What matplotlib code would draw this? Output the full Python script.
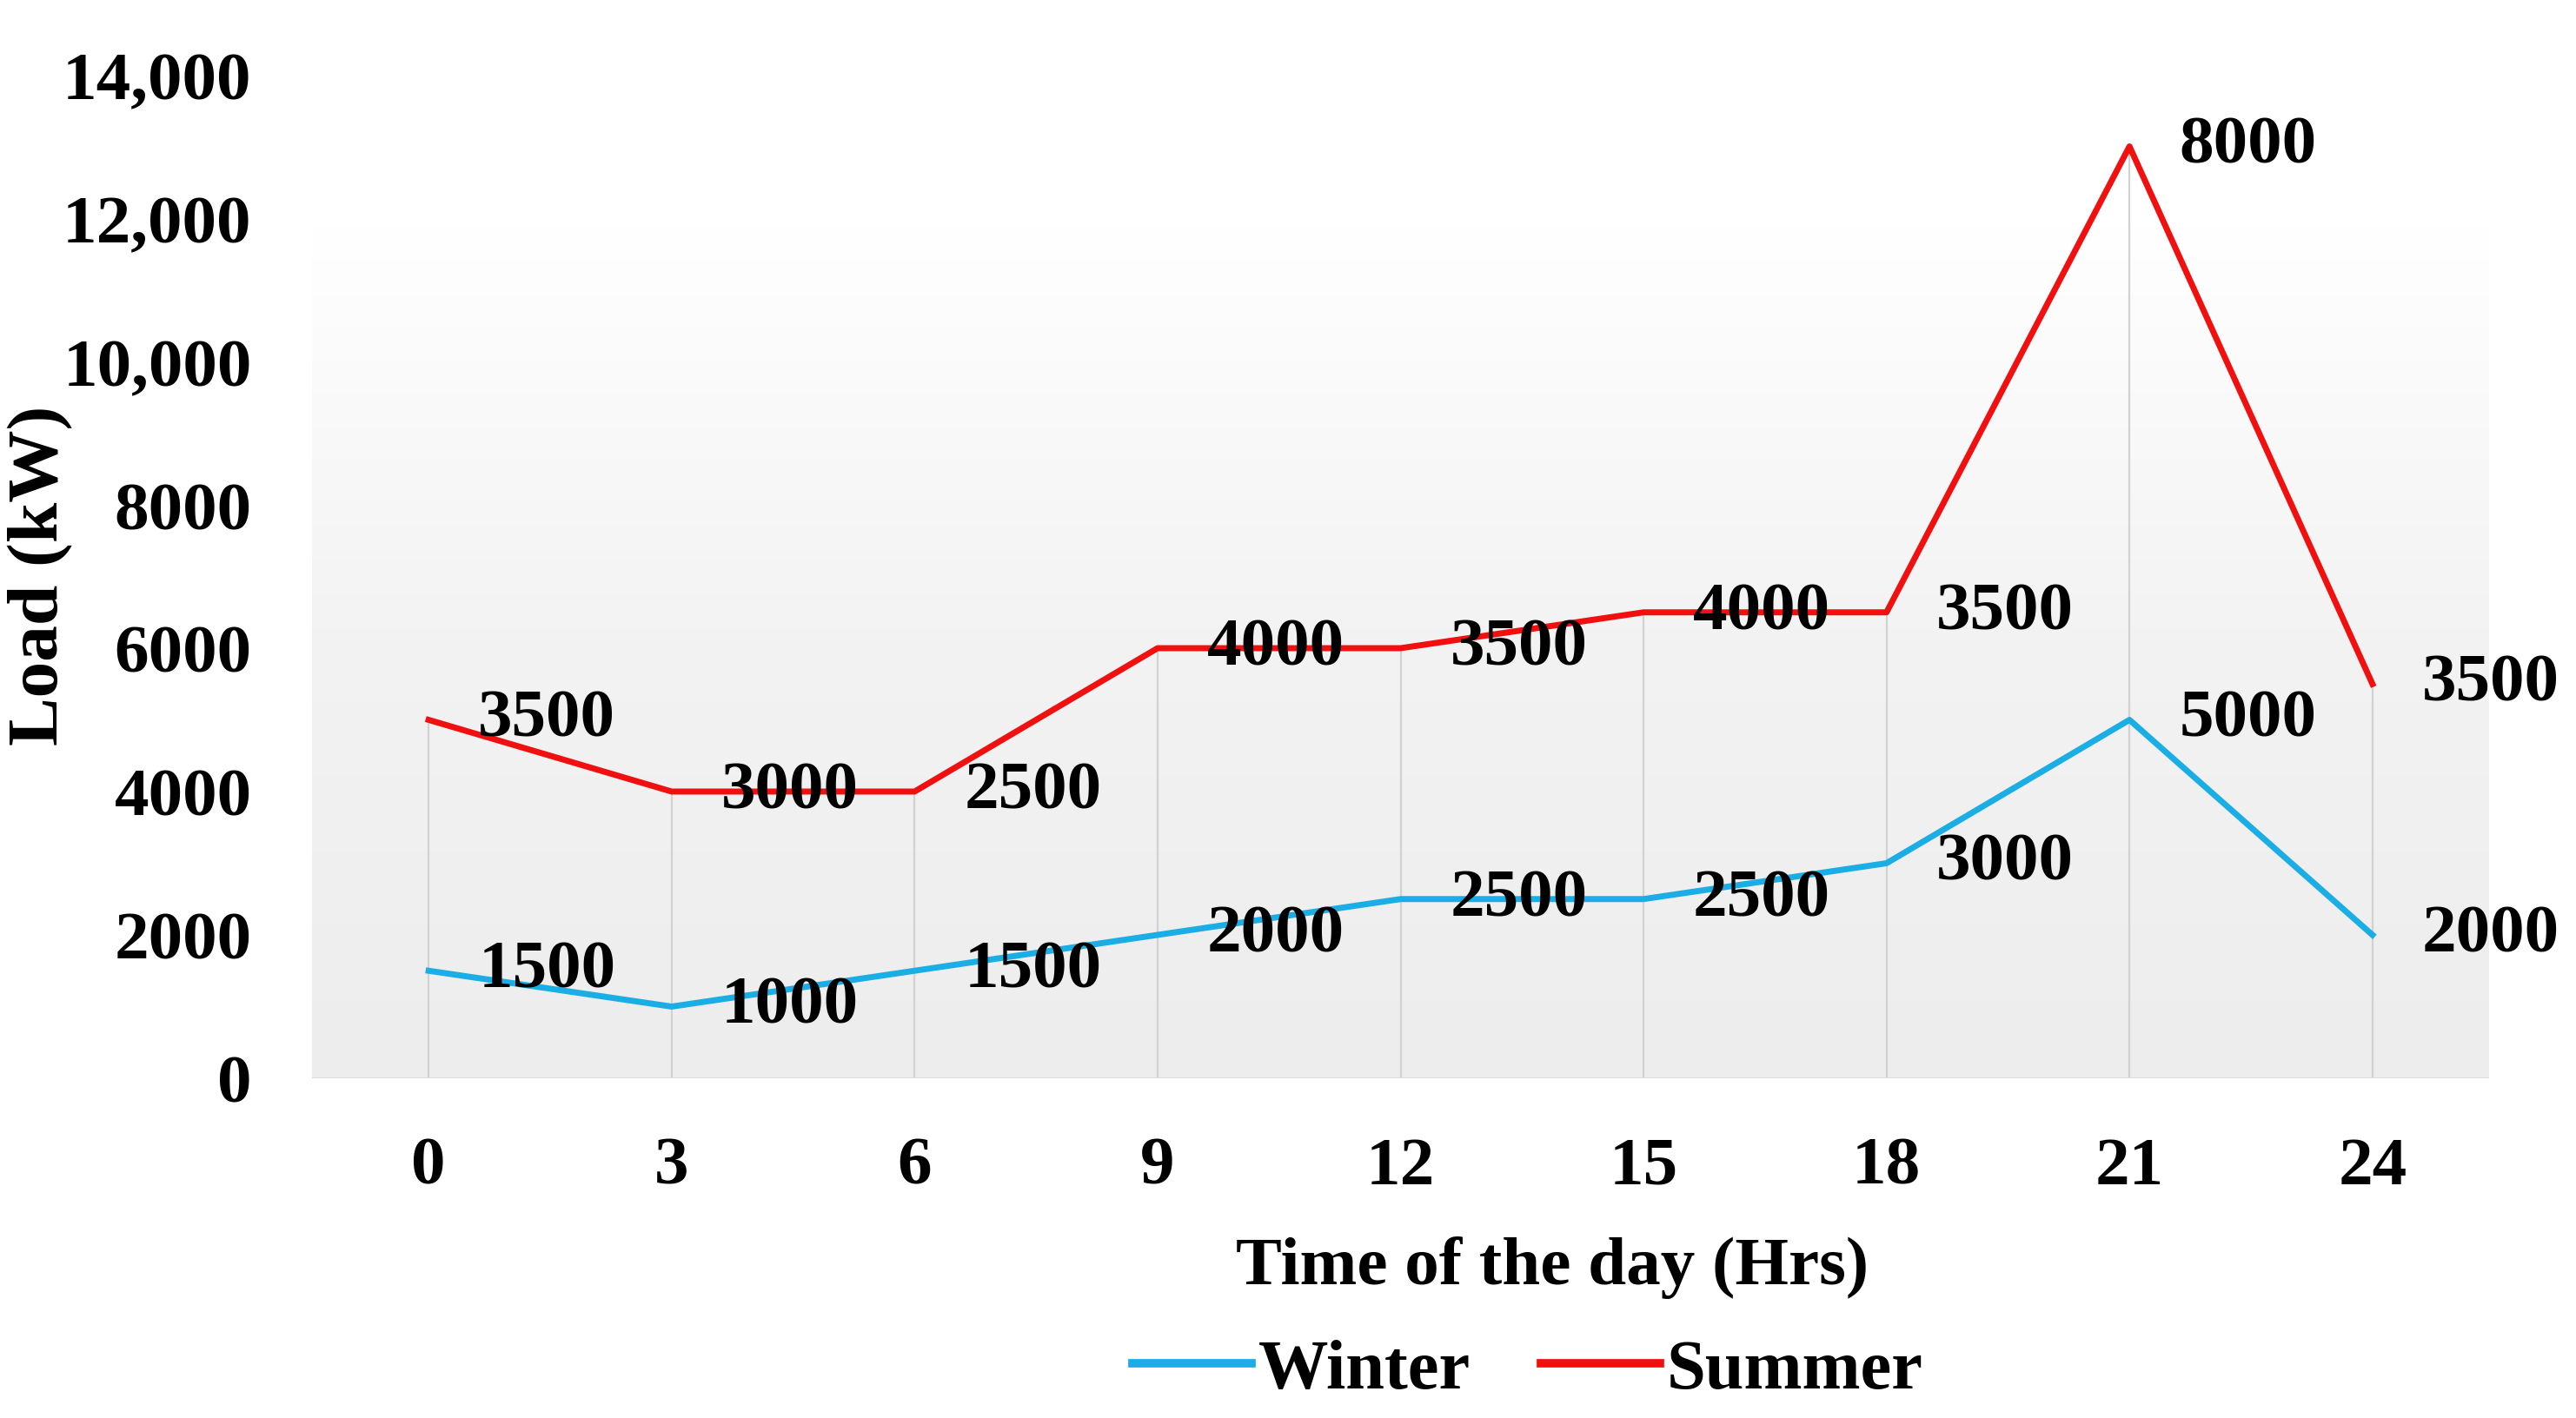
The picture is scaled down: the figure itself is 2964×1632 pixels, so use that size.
import numpy as np
import matplotlib
matplotlib.use("Agg")
import matplotlib.pyplot as plt

hours = [0, 3, 6, 9, 12, 15, 18, 21, 24]
winter = [1500, 1000, 1500, 2000, 2500, 2500, 3000, 5000, 2000]
summer = [3500, 3000, 2500, 4000, 3500, 4000, 3500, 8000, 3500]
ytick_vals = [0, 2000, 4000, 6000, 8000, 10000, 12000, 14000]
ytick_labels = ["0", "2000", "4000", "6000", "8000", "10,000", "12,000", "14,000"]

plt.rcParams['font.family'] = ['Liberation Serif', 'DejaVu Serif']
plt.rcParams['font.weight'] = 'bold'

W, H = 2964, 1633
fig = plt.figure(figsize=(W / 100, H / 100), dpi=100)
left, right, bottom, top = 359 / W, 2864 / W, 1 - 1242 / H, 1 - 87 / H
ax = fig.add_axes([left, bottom, right - left, top - bottom])

pos = np.arange(len(hours))
xmin, xmax = -0.48, len(hours) - 1 + 0.48
ax.set_xlim(xmin, xmax)
ax.set_ylim(0, 14000)

# gradient background: grey at bottom fading to white at top
grad = np.linspace(0, 1, 256).reshape(-1, 1)
cmap = matplotlib.colors.LinearSegmentedColormap.from_list(
    "g", [(0.0, "#ededed"), (0.45, "#f3f3f3"), (0.85, "#ffffff"), (1.0, "#ffffff")])
ax.imshow(grad, extent=[xmin, xmax, 0, 14000], aspect='auto', cmap=cmap,
          zorder=0, origin='lower')

stack = np.array(winter) + np.array(summer)

# drop lines
ax.vlines(pos, 0, stack, colors="#d2d2d2", linewidth=1.6, zorder=1)
ax.axhline(0, color="#d9d9d9", linewidth=2, zorder=1)

ax.plot(pos, winter, color="#1aaee5", linewidth=5, label="Winter", zorder=3)
ax.plot(pos, stack, color="#f01010", linewidth=5, label="Summer", zorder=3)

fs = 57
for p, w, s, tot in zip(pos, winter, summer, stack):
    ax.annotate(str(w), (p, w), xytext=(41, 0), textcoords='offset points',
                ha='left', va='center', fontsize=fs, fontweight='bold', zorder=4)
    ax.annotate(str(s), (p, tot), xytext=(41, 0), textcoords='offset points',
                ha='left', va='center', fontsize=fs, fontweight='bold', zorder=4)

ax.set_xticks(pos)
ax.set_xticklabels([str(h) for h in hours], fontsize=fs, fontweight='bold')
ax.set_yticks(ytick_vals)
ax.set_yticklabels(ytick_labels, fontsize=fs, fontweight='bold')
ax.tick_params(axis='both', length=0)
ax.tick_params(axis='x', pad=48)
ax.tick_params(axis='y', pad=50)
for sp in ax.spines.values():
    sp.set_visible(False)

fig.text(47 / W, 1 - 662 / H, "Load (kW)", rotation=90, ha='center', va='center',
         fontsize=60, fontweight='bold')
fig.text(1786 / W, 1 - 1459 / H, "Time of the day (Hrs)", ha='center', va='center',
         fontsize=57, fontweight='bold')

leg = fig.legend(loc='center', bbox_to_anchor=(1758 / W, 1 - 1578 / H), ncol=2, frameon=False,
                 prop={'size': 58, 'weight': 'bold'}, handlelength=1.7, handletextpad=0.1,
                 columnspacing=1.0)
for l in leg.get_lines():
    l.set_linewidth(7)

fig.savefig("out.png", dpi=100)
